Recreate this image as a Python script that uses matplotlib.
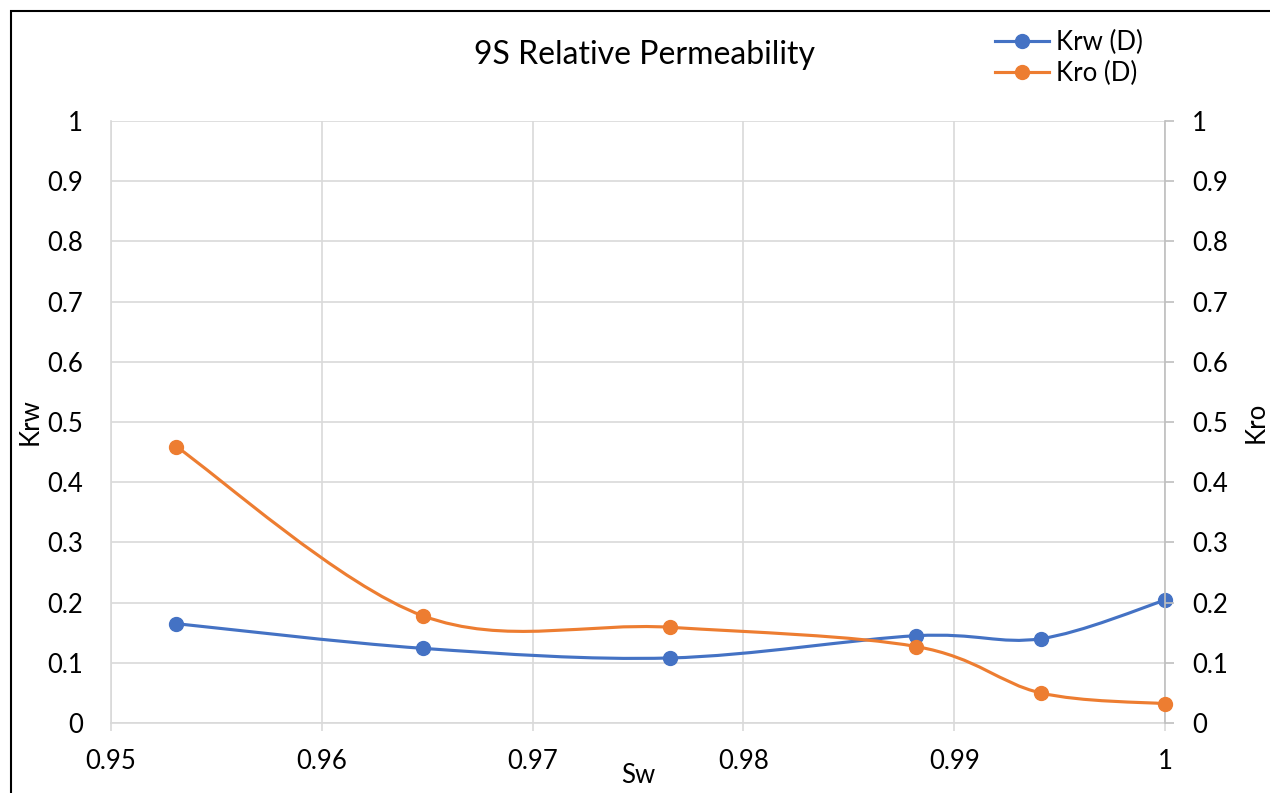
import numpy as np
import matplotlib
matplotlib.use("Agg")
import matplotlib.pyplot as plt
from matplotlib.path import Path
from matplotlib.patches import PathPatch, Rectangle
from matplotlib.lines import Line2D
from matplotlib.ticker import FuncFormatter

plt.rcParams['font.family'] = ['Lato', 'DejaVu Sans']

sw = [0.9531, 0.9648, 0.9765, 0.9882, 0.9941, 1.0]
krw = [0.165, 0.124, 0.108, 0.145, 0.140, 0.204]
kro = [0.459, 0.178, 0.159, 0.127, 0.050, 0.032]

x_ticks = [0.95, 0.96, 0.97, 0.98, 0.99, 1.0]
y_ticks = [0, 0.1, 0.2, 0.3, 0.4, 0.5, 0.6, 0.7, 0.8, 0.9, 1.0]

blue = '#4472C4'
orange = '#ED7D31'
grid_c = '#d9d9d9'
txt_c = '#000000'
fs = 18.5


def smooth_path(xs, ys):
    # excel-style smoothed line: cubic bezier through every point
    p = np.column_stack([xs, ys])
    n = len(p)
    verts = [p[0]]
    codes = [Path.MOVETO]
    for i in range(n - 1):
        p0 = p[i - 1] if i > 0 else p[i]
        p3 = p[i + 2] if i + 2 < n else p[i + 1]
        c1 = p[i] + (p[i + 1] - p0) / 6.0
        c2 = p[i + 1] - (p3 - p[i]) / 6.0
        verts += [c1, c2, p[i + 1]]
        codes += [Path.CURVE4] * 3
    return Path(verts, codes)


def fmt(v, pos):
    return '{:g}'.format(round(v, 4))


fig = plt.figure(figsize=(12.7, 7.93), dpi=100)
ax = fig.add_axes([111 / 1270, 1 - 723 / 793, (1165 - 111) / 1270, (723 - 121) / 793])
ax2 = ax.twinx()

for a in (ax, ax2):
    a.set_ylim(0, 1)
    a.set_yticks(y_ticks)
    a.yaxis.set_major_formatter(FuncFormatter(fmt))
    for s in a.spines.values():
        s.set_visible(False)
ax.set_xlim(0.95, 1.0)
ax.set_xticks(x_ticks)
ax.xaxis.set_major_formatter(FuncFormatter(fmt))

ax.grid(True, color=grid_c, lw=1.2)
ax.set_axisbelow(True)
ax.spines['bottom'].set_visible(True)
ax.spines['bottom'].set_color(grid_c)
ax.spines['bottom'].set_linewidth(1.2)
ax.spines['left'].set_visible(True)
ax.spines['left'].set_color(grid_c)
ax.spines['left'].set_linewidth(1.2)
ax2.spines['right'].set_visible(True)
ax2.spines['right'].set_color('#bfbfbf')
ax2.spines['right'].set_linewidth(1.2)

ax.tick_params(axis='x', length=6, width=1.2, color=grid_c, pad=13,
               labelsize=fs, labelcolor=txt_c)
ax.tick_params(axis='y', length=0, pad=20, labelsize=fs, labelcolor=txt_c)
ax2.tick_params(axis='y', length=6.5, width=1.2, color='#bfbfbf', pad=13,
                labelsize=fs, labelcolor=txt_c)

ax.add_patch(PathPatch(smooth_path(sw, krw), fill=False, edgecolor=blue,
                       lw=2.25, capstyle='round', zorder=3))
ax.plot(sw, krw, 'o', color=blue, ms=10, zorder=4, clip_on=False)
ax2.add_patch(PathPatch(smooth_path(sw, kro), fill=False, edgecolor=orange,
                        lw=2.25, capstyle='round', zorder=3))
ax2.plot(sw, kro, 'o', color=orange, ms=10, zorder=4, clip_on=False)

ax.set_ylabel('Krw', fontsize=fs, va='center', ha='center')
ax.yaxis.set_label_coords((30 - 111) / 1054, 0.5)
ax2.set_ylabel('Kro', fontsize=fs, rotation=90, va='center', ha='center')
ax2.yaxis.set_label_coords((1256 - 111) / 1054, 0.5)
ax.set_xlabel('Sw', fontsize=fs, labelpad=-8)

fig.text(645 / 1270, 1 - 55 / 793, '9S Relative Permeability', fontsize=23,
         ha='center', va='center')

handles = [Line2D([], [], color=blue, lw=2.25, marker='o', ms=10),
           Line2D([], [], color=orange, lw=2.25, marker='o', ms=10)]
fig.legend(handles, ['Krw (D)', 'Kro (D)'], loc='upper left',
           bbox_to_anchor=(985 / 1270, 1 - 20 / 793), frameon=False,
           fontsize=fs, handlelength=2.1, handletextpad=0.25,
           labelspacing=0.2, borderaxespad=0)

# chart border
fig.patches.append(Rectangle((11 / 1270, -0.05), 1.1, 1 - 11 / 793 + 0.05,
                             transform=fig.transFigure, fill=False,
                             edgecolor='black', lw=1.5))

fig.savefig('out.png', dpi=100)
